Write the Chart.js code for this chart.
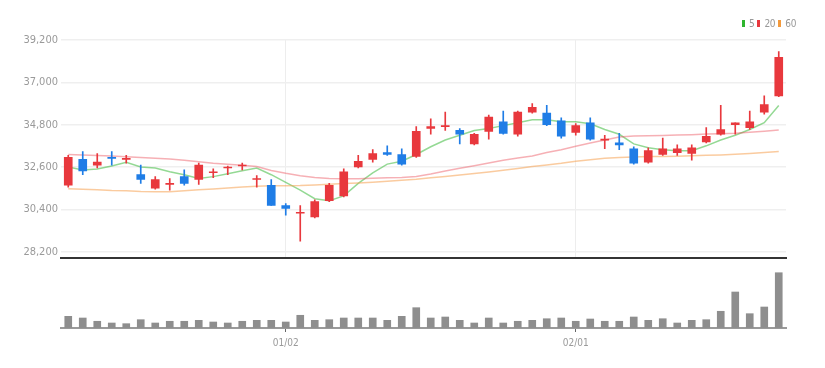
<!DOCTYPE html>
<html lang="ko">
<head>
  <meta charset="UTF-8">
  <title>Daily Candles</title>
  <style>
    * { margin: 0; padding: 0; box-sizing: border-box; }
    body { background: #fff; width: 825px; height: 368px; overflow: hidden; font-family: 'Liberation Sans Narrow', 'DejaVu Sans Condensed', Arial, sans-serif; }
    .wrap { position: relative; width: 825px; height: 368px; }
    #priceChart { position: absolute; left: 0; top: 0; }
    #volumeChart { position: absolute; left: 0; top: 268px; }
    /* small legend top right */
    .legend { position: absolute; top: 18px; left: 742px; font-size: 10px; color: #999; display: flex; align-items: center; gap: 3px; letter-spacing: -0.3px; }
    .legend i { display: inline-block; width: 3px; height: 7px; margin-right: 1px; }
  </style>
  <script src="https://cdn.jsdelivr.net/npm/chart.js"></script>
</head>
<body>
  <div class="wrap">
    <canvas id="priceChart" width="825" height="268"></canvas>
    <canvas id="volumeChart" width="825" height="100"></canvas>
    <div class="legend">
      <i style="background:#2fb52f"></i><span>5</span>
      <i style="background:#e8383d"></i><span>20</span>
      <i style="background:#f39a3c"></i><span>60</span>
    </div>
  </div>

  <script>
    // trading days
    const dates = ['12/09','12/12','12/13','12/14','12/15','12/16','12/19','12/20','12/21','12/22',
      '12/23','12/26','12/27','12/28','12/29','01/02','01/03','01/04','01/05','01/06',
      '01/09','01/10','01/11','01/12','01/13','01/16','01/17','01/18','01/19','01/20',
      '01/25','01/26','01/27','01/30','01/31','02/01','02/02','02/03','02/06','02/07',
      '02/08','02/09','02/10','02/13','02/14','02/15','02/16','02/17','02/20','02/21'];
    const xTickLabels = ['01/02', '02/01'];
    const yTicks = [28200, 30400, 32600, 34800, 37000, 39200];

    const opens  = [31650,33000,32700,33100,33000,32200,31500,31700,32100,31950,
                    32300,32550,32650,31950,31650,30600,30200,30000,30850,31100,
                    32600,33000,33350,33250,33150,34600,34700,34500,33800,34450,
                    34950,34300,35450,35400,35000,34400,34900,34000,33850,33550,
                    32850,33250,33350,33300,33900,34300,34800,34650,35450,36300];
    const highs  = [33200,33400,33300,33400,33200,32700,32100,32000,32450,32800,
                    32500,32650,32800,32150,31950,30700,30600,30900,31750,32500,
                    33200,33500,33700,33550,34700,35100,35450,34600,34350,35300,
                    35500,35500,35900,35800,35150,34850,35150,34250,34350,33650,
                    33600,34100,33750,33750,34650,35800,34900,35500,36300,38600];
    const lows   = [31550,32200,32550,32700,32800,31750,31450,31400,31650,31700,
                    32050,32200,32450,31550,30600,30100,28750,29950,30800,31050,
                    32550,32850,33200,32700,33100,34300,34500,33800,33750,34050,
                    34300,34200,35400,34750,34100,34250,34000,33550,33500,32750,
                    32800,33200,33200,32950,33850,34250,34300,34550,35350,36250];
    const closes = [33100,32400,32850,33050,33050,31950,31950,31750,31750,32700,
                    32350,32600,32700,32000,30600,30450,30250,30800,31650,32350,
                    32900,33300,33250,32750,34450,34700,34750,34300,34300,35200,
                    34350,35450,35700,34800,34200,34750,34050,34050,33750,32800,
                    33450,33550,33550,33600,34200,34550,34900,34950,35850,38300];

    // moving averages
    const ma5  = [32600,32450,32500,32650,32850,32600,32550,32350,32200,32000,
                  32100,32250,32400,32550,32200,31800,31400,30950,30850,31100,
                  31750,32300,32750,32900,33250,33650,34000,34250,34500,34600,
                  34750,34900,35050,35050,34950,34950,34850,34550,34300,33800,
                  33600,33500,33450,33450,33700,34000,34250,34550,34900,35800];
    const ma20 = [33250,33220,33200,33170,33130,33100,33050,33010,32950,32870,
                  32790,32740,32690,32620,32420,32270,32140,32060,32000,31990,
                  31990,32010,32040,32060,32110,32240,32390,32540,32670,32810,
                  32950,33070,33170,33350,33500,33680,33850,34000,34160,34210,
                  34230,34240,34260,34280,34310,34330,34360,34410,34460,34520];
    const ma60 = [31470,31440,31420,31380,31360,31330,31320,31310,31360,31420,
                  31460,31510,31560,31600,31620,31630,31640,31670,31700,31740,
                  31770,31810,31860,31910,31960,32040,32110,32190,32260,32340,
                  32430,32520,32620,32710,32790,32900,32980,33050,33100,33120,
                  33140,33150,33160,33180,33210,33230,33260,33300,33350,33400];

    // volume (thousand shares)
    const volumes = [292,250,168,125,108,208,125,168,168,192,
                     150,125,168,192,192,150,318,192,208,250,
                     250,250,192,292,508,250,275,192,125,250,
                     125,168,192,232,250,168,225,168,168,275,
                     192,232,125,192,208,418,900,358,525,1382];

    const UP = '#e8383d';
    const DOWN = '#1f7de6';
    const candleColors = closes.map((c, i) => c >= opens[i] ? UP : DOWN);
    const bodies = opens.map((o, i) => [o, closes[i]]);
    const wicks = lows.map((l, i) => [l, highs[i]]);

    const narrow = "'Liberation Sans Narrow', 'DejaVu Sans Condensed', Arial, sans-serif";
    const isMarked = i => xTickLabels.includes(dates[i]);

    // price pane
    new Chart(document.getElementById('priceChart'), {
      type: 'bar',
      data: {
        labels: dates,
        datasets: [
          { type: 'line', label: '5', data: ma5, borderColor: 'rgba(60,185,60,0.55)', borderWidth: 1.5, pointRadius: 0, tension: 0, order: 5 },
          { type: 'line', label: '20', data: ma20, borderColor: 'rgba(236,80,90,0.45)', borderWidth: 1.5, pointRadius: 0, tension: 0, order: 4 },
          { type: 'line', label: '60', data: ma60, borderColor: 'rgba(245,160,80,0.55)', borderWidth: 1.5, pointRadius: 0, tension: 0, order: 3 },
          { label: 'wick', data: wicks, backgroundColor: candleColors, barThickness: 1, grouped: false, order: 2 },
          { label: 'body', data: bodies, backgroundColor: candleColors, barThickness: 8, grouped: false, order: 1 }
        ]
      },
      options: {
        responsive: false,
        animation: false,
        layout: { padding: { left: 0, right: 39, top: 40, bottom: 3 } },
        plugins: { legend: { display: false }, tooltip: { enabled: false } },
        scales: {
          x: {
            offset: true,
            grid: {
              offset: false,
              drawTicks: false,
              color: c => isMarked(c.index) ? '#ededed' : 'rgba(0,0,0,0)'
            },
            border: { color: '#333', width: 2 },
            ticks: { display: false, autoSkip: false },
            afterFit: s => { s.height = 0; }
          },
          y: {
            min: 27850,
            max: 39200,
            afterBuildTicks: s => { s.ticks = yTicks.map(v => ({ value: v })); },
            afterFit: s => { s.width = 61; },
            grid: { color: '#efefef', lineWidth: 1.5, drawTicks: false },
            border: { display: false },
            ticks: {
              padding: 3,
              color: '#9a9a9a',
              font: { family: narrow, size: 11 },
              callback: v => v.toLocaleString('en-US')
            }
          }
        }
      }
    });

    // volume pane
    new Chart(document.getElementById('volumeChart'), {
      type: 'bar',
      data: {
        labels: dates,
        datasets: [{ label: 'volume', data: volumes, backgroundColor: '#8e8e8e', barThickness: 7 }]
      },
      options: {
        responsive: false,
        animation: false,
        layout: { padding: { left: 61, right: 39, top: 0, bottom: 0 } },
        plugins: { legend: { display: false }, tooltip: { enabled: false } },
        scales: {
          x: {
            offset: true,
            grid: {
              offset: false,
              drawOnChartArea: false,
              tickLength: 4,
              color: c => isMarked(c.index) ? '#666' : 'rgba(0,0,0,0)'
            },
            border: { color: '#9a9a9a', width: 2 },
            ticks: {
              autoSkip: false,
              maxRotation: 0,
              padding: 5,
              color: '#9a9a9a',
              font: { family: narrow, size: 10 },
              callback: (v, i) => isMarked(i) ? dates[i] : ''
            },
            afterFit: s => { s.height = 40; }
          },
          y: { display: false, min: 0, max: 1500 }
        }
      }
    });
  </script>
</body>
</html>
